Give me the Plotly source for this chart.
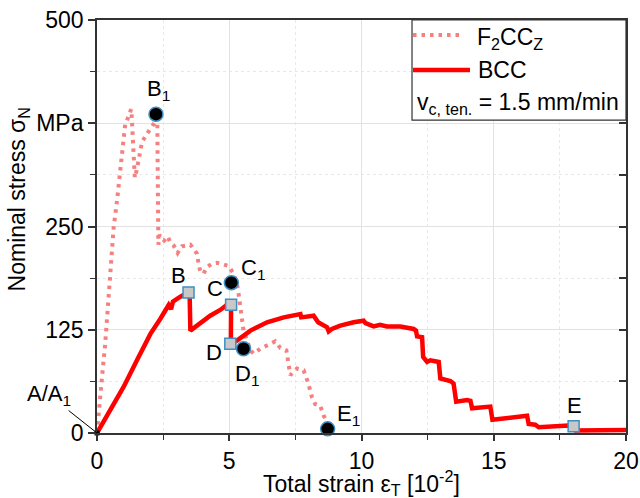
import plotly.graph_objects as go

# F2CCZ lattice: total strain [10^-2] and nominal stress [MPa]
f2ccz_strain = [0.0, 0.05, 0.19, 0.31, 0.44, 0.53, 0.57, 0.63, 0.76, 0.86, 0.95, 1.01, 1.07, 1.13,
                1.20, 1.29, 1.31, 1.33, 1.35, 1.37, 1.39, 1.41, 1.43, 1.50, 1.57, 1.64, 1.70, 1.79,
                1.89, 1.99, 2.08, 2.18, 2.25, 2.28, 2.30, 2.32, 2.36, 2.45, 2.54, 2.67, 2.77, 2.90,
                3.05, 3.21, 3.40, 3.53, 3.65, 3.78, 3.84, 3.91, 4.03, 4.16, 4.35, 4.54, 4.79, 4.98,
                5.16, 5.29, 5.35, 5.42, 5.48, 5.54, 5.67, 5.80, 5.92, 6.17, 6.43, 6.74, 6.93, 7.16,
                7.28, 7.31, 7.56, 7.81, 7.99, 8.13, 8.25, 8.44, 8.57, 8.70, 8.72]
f2ccz_stress = [0, 20, 68, 108, 161, 201, 217, 249, 282, 314, 342, 363, 375, 378,
                385, 392, 385, 375, 360, 345, 330, 318, 309, 318, 330, 340, 352, 357,
                363, 367, 371, 376, 382, 378, 300, 228, 240, 235, 233, 238, 231, 227,
                218, 226, 227, 228, 223, 217, 205, 195, 193, 201, 205, 206, 204, 202,
                193, 181, 169, 152, 136, 124, 112, 100, 96, 102, 106, 111, 103, 100,
                76, 70, 78, 76, 60, 43, 35, 33, 21, 13, 5]

# BCC lattice
bcc_strain = [0.0, 0.50, 1.01, 1.51, 2.02, 2.39, 2.71, 2.80, 2.87, 3.15, 3.46, 3.50, 3.53, 3.91,
              4.28, 4.66, 4.91, 5.07, 5.06, 5.29, 5.67, 5.80, 6.43, 7.06, 7.69, 7.72, 8.19, 8.25,
              8.32, 8.36, 8.70, 8.76, 8.88, 9.20, 9.70, 10.08, 10.15, 10.21, 10.46, 10.70, 10.96,
              11.47, 11.97, 12.06, 12.10, 12.29, 12.33, 12.48, 12.60, 12.92, 12.98, 13.36, 13.48,
              13.58, 13.99, 14.12, 14.18, 14.87, 14.95, 16.26, 16.32, 16.57, 16.70, 17.83, 18.02,
              18.10, 20.0]
bcc_stress = [0, 27, 56, 88, 120, 138, 155, 150, 159, 165, 170, 171, 124, 134,
              142, 149, 155, 156, 108, 112, 122, 124, 134, 140, 144, 140, 142, 139,
              138, 134, 128, 123, 126, 130, 134, 136, 133, 132, 129, 131, 129,
              129, 126, 124, 117, 116, 92, 86, 88, 86, 66, 63, 60,
              38, 40, 39, 30, 32, 16, 21, 11, 10, 7, 9, 8.2,
              3, 3.5]

# Characteristic points
f2ccz_pt_names = ["B<sub>1</sub>", "C<sub>1</sub>", "D<sub>1</sub>", "E<sub>1</sub>"]
f2ccz_pt_strain = [2.23, 5.08, 5.54, 8.72]
f2ccz_pt_stress = [386, 182, 102, 5]
bcc_pt_names = ["B", "C", "D", "E"]
bcc_pt_strain = [3.46, 5.07, 5.04, 18.02]
bcc_pt_stress = [170, 155.4, 108, 8.2]

# label offsets (pixels) for the characteristic points
f2ccz_lbl_dx = [3, 22, 3, 21]
f2ccz_lbl_dy = [-24, -14, 26, -14]
bcc_lbl_dx = [-10, -16, -16, 1]
bcc_lbl_dy = [-17, -16, 9, -21]

x_ticks = dict(tick0=0, dtick=5)
y_ticks = dict(tick0=0, dtick=125)
y_tick_alias = {375: "MPa"}

FONT = "Liberation Sans"
FS = 23
DOT_COLOR = "#f67f7f"
LINE_COLOR = "#ff0000"
EDGE = "#3d8fc4"
AXC = "#333333"

fig = go.Figure()

fig.add_trace(go.Scatter(x=f2ccz_strain, y=f2ccz_stress, mode="lines",
                         line=dict(color=DOT_COLOR, width=4, dash="3.5px,5px"),
                         showlegend=False, cliponaxis=False))
fig.add_trace(go.Scatter(x=bcc_strain, y=bcc_stress, mode="lines",
                         line=dict(color=LINE_COLOR, width=4.5),
                         showlegend=False))

# origin point A / A1
fig.add_trace(go.Scatter(x=[0], y=[0], mode="markers",
                         marker=dict(symbol="square", size=5, color="black"),
                         showlegend=False, cliponaxis=False))

fig.add_trace(go.Scatter(x=bcc_pt_strain, y=bcc_pt_stress, mode="markers",
                         marker=dict(symbol="square", size=11, color="#c8c8c8",
                                     line=dict(color=EDGE, width=1.5)),
                         showlegend=False, cliponaxis=False))
fig.add_trace(go.Scatter(x=f2ccz_pt_strain, y=f2ccz_pt_stress, mode="markers",
                         marker=dict(symbol="circle", size=14, color="black",
                                     line=dict(color=EDGE, width=1.5)),
                         showlegend=False, cliponaxis=False))

# empty trace so the right-hand tick axis is drawn
fig.add_trace(go.Scatter(x=[], y=[], yaxis="y2", showlegend=False, hoverinfo="skip"))

annotations = []
for name, xv, yv, dx, dy in zip(f2ccz_pt_names + bcc_pt_names,
                                f2ccz_pt_strain + bcc_pt_strain,
                                f2ccz_pt_stress + bcc_pt_stress,
                                f2ccz_lbl_dx + bcc_lbl_dx,
                                f2ccz_lbl_dy + bcc_lbl_dy):
    annotations.append(dict(x=xv, y=yv, text=name, showarrow=True, arrowcolor="rgba(0,0,0,0)",
                            ax=dx, ay=dy, font=dict(size=FS - 1, color="black", family=FONT)))

annotations.append(dict(x=0, y=0, text="A/A<sub>1</sub>", showarrow=True, arrowhead=0,
                        arrowwidth=1, arrowcolor="black", ax=-48, ay=-38,
                        font=dict(size=FS - 1, color="black", family=FONT)))

# axis titles
annotations.append(dict(xref="paper", yref="paper", x=-0.149, y=0.566,
                        xanchor="center", yanchor="middle",
                        text="Nominal stress σ<sub>N</sub>", textangle=-90, showarrow=False,
                        font=dict(size=FS, color="black", family=FONT)))
annotations.append(dict(xref="paper", yref="paper", x=0.5, y=-0.122,
                        xanchor="center", yanchor="middle",
                        text="Total strain ε<sub>T</sub> [10<sup>-2</sup>]", showarrow=False,
                        font=dict(size=FS, color="black", family=FONT)))

# legend box content
annotations.append(dict(xref="paper", yref="paper", x=0.7146, y=0.955, xanchor="left",
                        yanchor="middle", text="F<sub>2</sub>CC<sub>Z</sub>", showarrow=False,
                        font=dict(size=FS, color="black", family=FONT)))
annotations.append(dict(xref="paper", yref="paper", x=0.7164, y=0.879, xanchor="left",
                        yanchor="middle", text="BCC", showarrow=False,
                        font=dict(size=FS, color="black", family=FONT)))
annotations.append(dict(xref="paper", yref="paper", x=0.601, y=0.798, xanchor="left",
                        yanchor="middle", text="v<sub>c, ten.</sub> = 1.5 mm/min",
                        showarrow=False, font=dict(size=FS, color="black", family=FONT)))

shapes = [
    dict(type="rect", xref="paper", yref="paper", x0=0.5955, x1=1.0, y0=0.7576, y1=1.0,
         line=dict(color=AXC, width=1.2), fillcolor="white", layer="above"),
    dict(type="line", xref="paper", yref="paper", x0=0.5974, x1=0.690, y0=0.9636, y1=0.9636,
         line=dict(color=DOT_COLOR, width=4, dash="3.5px,5px"), layer="above"),
    dict(type="line", xref="paper", yref="paper", x0=0.5974, x1=0.7051, y0=0.8788, y1=0.8788,
         line=dict(color=LINE_COLOR, width=4.5), layer="above"),
]

fig.update_layout(
    width=640, height=498,
    margin=dict(l=97, r=14, t=20, b=65, autoexpand=False),
    paper_bgcolor="white", plot_bgcolor="white",
    font=dict(family=FONT, size=FS, color="black"),
    annotations=annotations,
    shapes=shapes,
    xaxis=dict(range=[0, 20], tickmode="linear", **x_ticks, automargin=False,
               ticks="outside", ticklen=6, tickwidth=1.5, tickcolor=AXC,
               showline=True, linecolor=AXC, linewidth=1.8, mirror=True,
               showgrid=True, gridcolor="#e2e2e2", gridwidth=1, zeroline=False,
               tickfont=dict(size=FS, family=FONT),
               minor=dict(dtick=2.5, ticks="outside", ticklen=5, tickwidth=1.2,
                          tickcolor=AXC, showgrid=True, gridcolor="#e8e8e8",
                          griddash="dot")),
    yaxis=dict(range=[0, 500], tickmode="linear", **y_ticks, labelalias=y_tick_alias,
               automargin=False,
               ticks="outside", ticklen=7, tickwidth=1.5, tickcolor=AXC,
               showline=True, linecolor=AXC, linewidth=1.8, mirror=True,
               showgrid=True, gridcolor="#e2e2e2", gridwidth=1, zeroline=False,
               tickfont=dict(size=FS, family=FONT),
               minor=dict(dtick=62.5, ticks="outside", ticklen=5, tickwidth=1.2,
                          tickcolor=AXC, showgrid=True, gridcolor="#e8e8e8",
                          griddash="dot")),
    yaxis2=dict(range=[0, 500], overlaying="y", side="right", tickmode="linear",
                automargin=False,
                tick0=0, dtick=62.5, ticks="inside", ticklen=7, tickwidth=1.5,
                tickcolor=AXC, showticklabels=False, showgrid=False,
                showline=False, zeroline=False),
)

fig.write_html("out.html")
